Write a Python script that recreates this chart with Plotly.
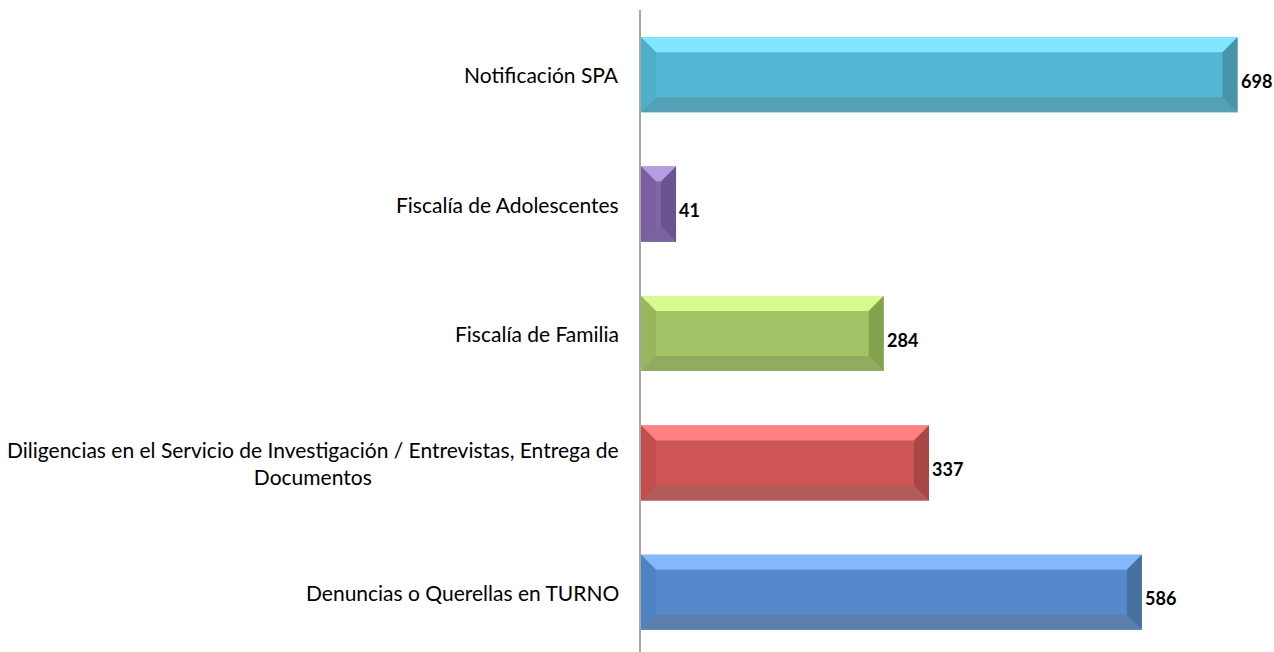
import plotly.graph_objects as go

# ---- data (bottom to top) ----
categories = [
    "Denuncias o Querellas en TURNO",
    "Diligencias en el Servicio de Investigación / Entrevistas, Entrega de<br>Documentos",
    "Fiscalía de Familia",
    "Fiscalía de Adolescentes",
    "Notificación SPA",
]
values = [586, 337, 284, 41, 698]

face_colors = ["#5689CB", "#CD5654", "#A3C366", "#8165A8", "#53B6D2"]
top_colors = ["#85B8FA", "#FF8080", "#D7F98E", "#B69CE2", "#82E6FF"]
left_colors = ["#4F82C3", "#C24F4D", "#98B75C", "#7A5E9F", "#4DAFCA"]
bottom_colors = ["#5B7FAC", "#B25B5B", "#91AB60", "#7A649E", "#55A0B4"]
right_colors = ["#46719F", "#A84745", "#84A24E", "#6A5490", "#4894A9"]

BAR_W = 0.58
BEV_X = 17.5      # bevel size in value units
BEV_Y = 0.116     # bevel size in category units
X_MAX = 740.7

idx = list(range(len(categories)))

fig = go.Figure()
fig.add_trace(go.Bar(
    y=idx, x=values, orientation="h", width=BAR_W,
    marker=dict(color=face_colors, line=dict(width=0)),
    hoverinfo="x", showlegend=False,
))

shapes = []
def poly(pts, color):
    path = "M " + " L ".join(f"{x},{y}" for x, y in pts) + " Z"
    shapes.append(dict(type="path", path=path, xref="x", yref="y",
                       fillcolor=color, line=dict(width=0), layer="above"))

h = BAR_W / 2
for i, v in zip(idx, values):
    yt, yb = i + h, i - h
    bx = min(BEV_X, v / 2)
    poly([(0, yt), (v, yt), (v - bx, yt - BEV_Y), (bx, yt - BEV_Y)], top_colors[i])
    poly([(0, yb), (v, yb), (v - bx, yb + BEV_Y), (bx, yb + BEV_Y)], bottom_colors[i])
    poly([(0, yb), (0, yt), (bx, yt - BEV_Y), (bx, yb + BEV_Y)], left_colors[i])
    poly([(v, yb), (v, yt), (v - bx, yt - BEV_Y), (v - bx, yb + BEV_Y)], right_colors[i])

FONT = "Lato, Liberation Sans, sans-serif"
annotations = []
for i, (c, v) in enumerate(zip(categories, values)):
    annotations.append(dict(
        x=0, xref="paper", y=i, yref="y", text=c, showarrow=False,
        xanchor="right", yanchor="middle", align="center", xshift=-20,
        font=dict(family=FONT, size=21, color="#000000"),
    ))
    annotations.append(dict(
        x=v, xref="x", y=i, yref="y", text=f"<b>{v}</b>", showarrow=False,
        xanchor="left", yanchor="middle", xshift=1, yshift=-6,
        font=dict(family=FONT, size=18, color="#000000"),
    ))

fig.update_layout(
    width=1274, height=652,
    margin=dict(l=641, r=0, t=10, b=0),
    paper_bgcolor="white", plot_bgcolor="white",
    shapes=shapes, annotations=annotations,
    xaxis=dict(range=[0, X_MAX], showgrid=False, zeroline=False,
               showticklabels=False, showline=False, ticks=""),
    yaxis=dict(range=[-0.461, 4.5], showgrid=False, zeroline=False,
               showticklabels=False, ticks="", showline=True,
               linecolor="#A6A6A6", linewidth=1.5),
    bargap=0.42,
)

fig.write_html(
    "out.html",
    config={"displayModeBar": False},
    post_script="document.body.style.margin='0';document.body.style.overflow='hidden';",
)
